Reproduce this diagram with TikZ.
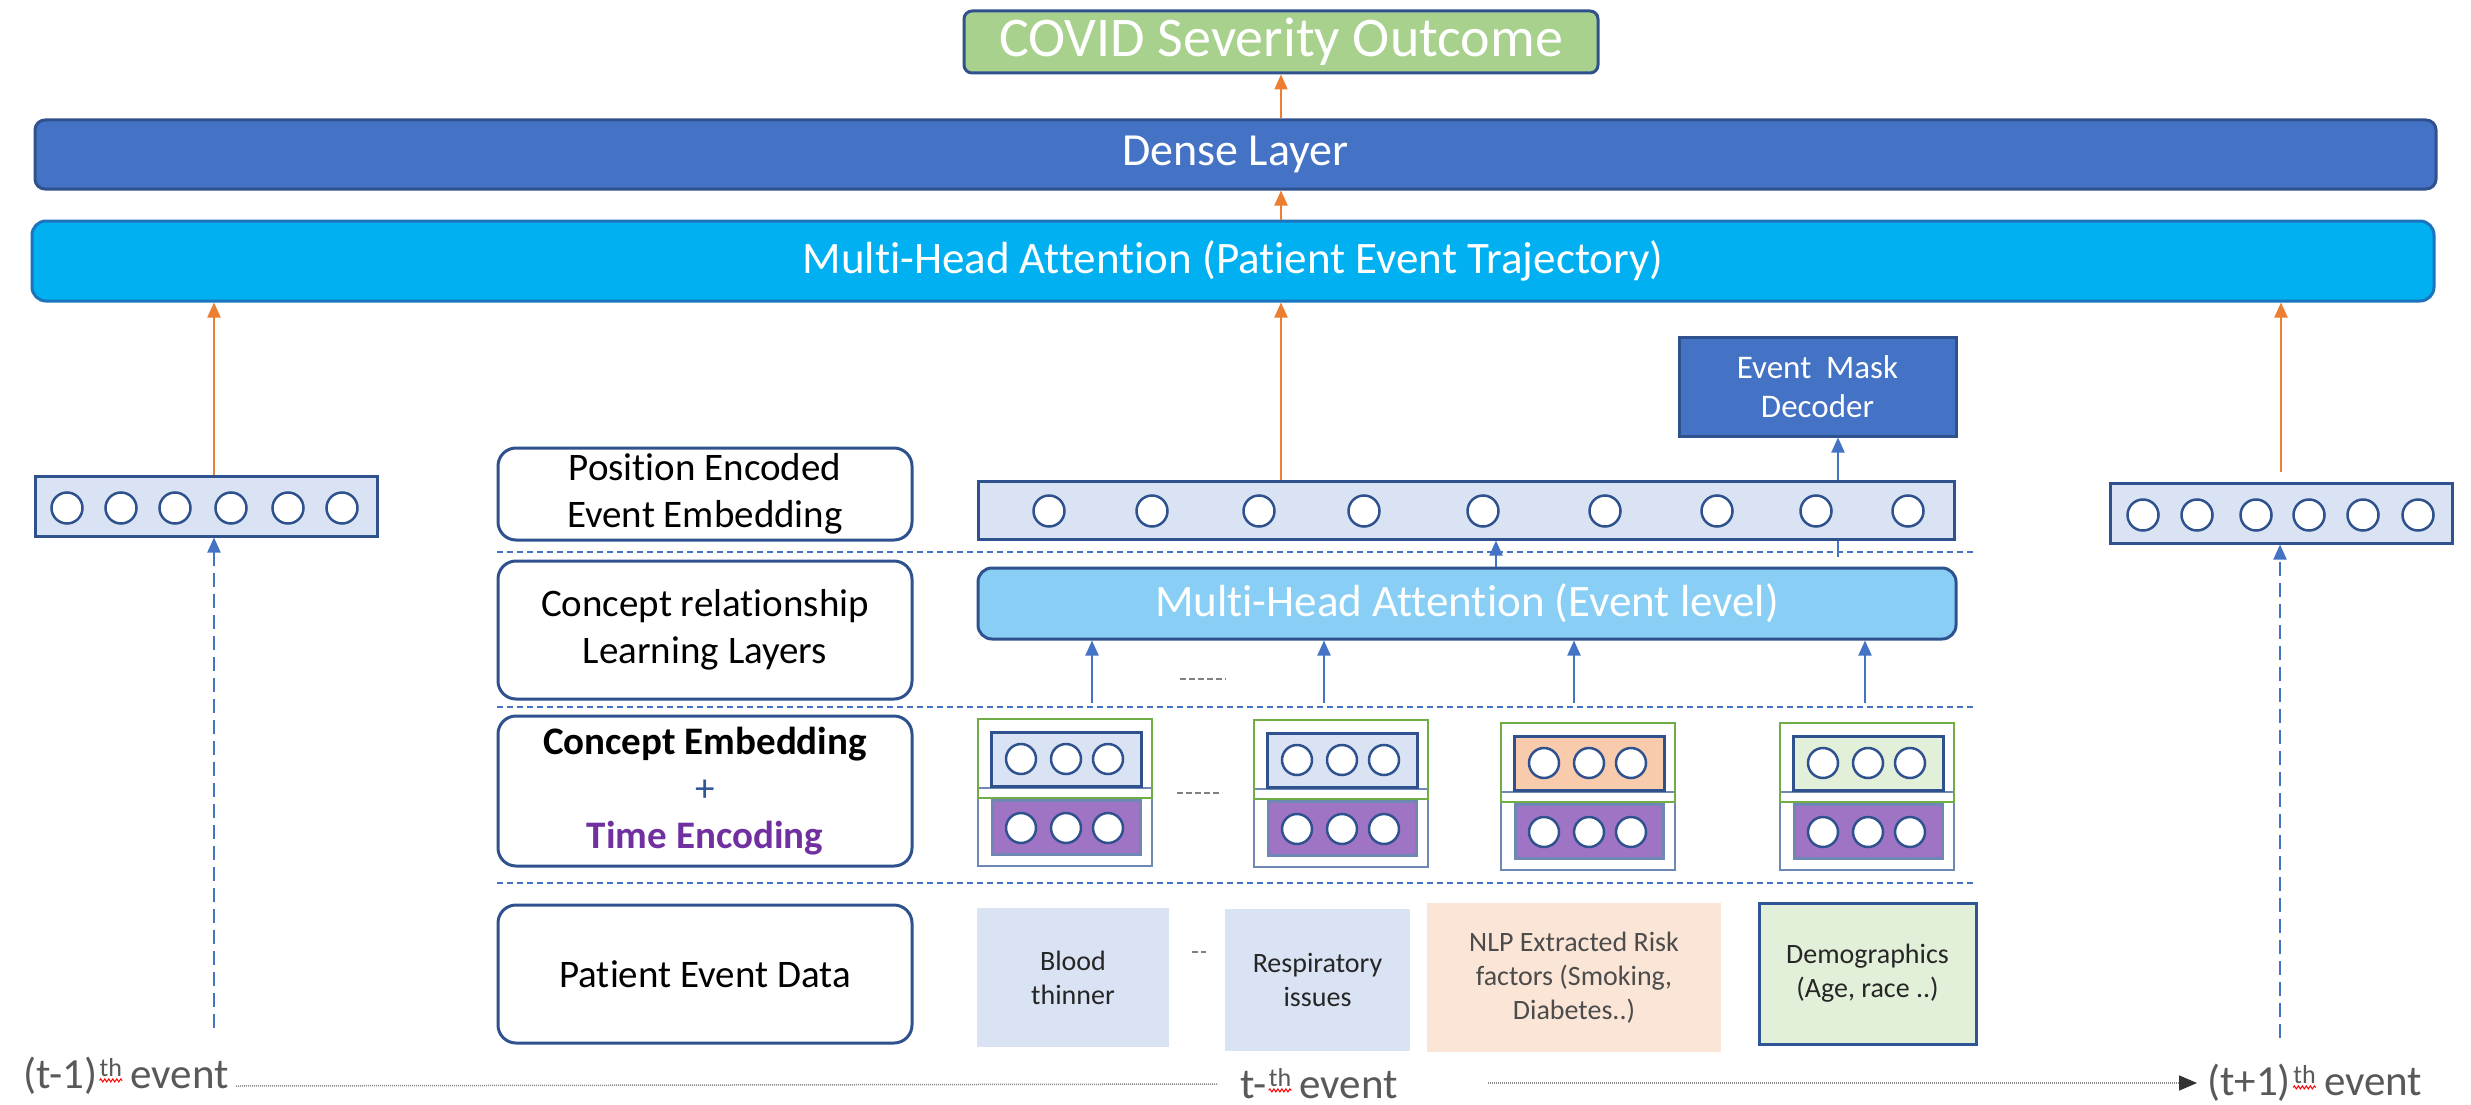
\documentclass[tikz,border=0pt]{standalone}
\usepackage{fontspec}
\setmainfont{Carlito}[Ligatures=NoCommon]
\usetikzlibrary{arrows.meta,calc,positioning,backgrounds,decorations.pathmorphing}
\definecolor{darkblue}{HTML}{2F528F}
\definecolor{accblue}{HTML}{4472C4}
\definecolor{cyanbar}{HTML}{00B0F0}
\definecolor{mhaline}{HTML}{1C75BC}
\definecolor{eventcyan}{HTML}{89CFF5}
\definecolor{paleblue}{HTML}{DAE3F3}
\definecolor{paleorange}{HTML}{F8CBAD}
\definecolor{peach}{HTML}{FBE5D6}
\definecolor{palegreen}{HTML}{E2F0D9}
\definecolor{covidgreen}{HTML}{A9D18E}
\definecolor{orangearr}{HTML}{ED7D31}
\definecolor{purplefill}{HTML}{A074C4}
\definecolor{timepurple}{HTML}{7030A0}
\definecolor{greenline}{HTML}{70AD47}
\definecolor{greyblue}{HTML}{6F87B5}
\definecolor{evgrey}{HTML}{595959}
\definecolor{demoblue}{HTML}{2F5597}
\newcommand{\setfs}[2]{\fontsize{#1}{#2}\selectfont}

\begin{document}
\begin{tikzpicture}[x=1pt,y=-1pt,
  bar/.style={draw=darkblue,line width=3pt,rounded corners=10pt,text=white,inner sep=0pt},
  rowname/.style={draw=darkblue,line width=3pt,fill=white,rounded corners=18pt,align=center,
    minimum width=414pt,inner sep=0pt,font=\setfs{39}{47}},
  emb/.style={draw=darkblue,line width=3pt,fill=paleblue,inner sep=0pt},
  unit/.style={draw=darkblue,line width=2.5pt,fill=white},
  data/.style={inner sep=0pt,align=center,text=black!85,font=\setfs{28}{34}},
  grpin/.style={draw=greenline,line width=2.5pt},
  grpout/.style={draw=greyblue,line width=2.5pt},
  oarrow/.style={draw=orangearr,line width=2pt,-{Triangle[length=15pt,width=13pt]}},
  barrow/.style={draw=accblue,line width=2pt,-{Triangle[length=15pt,width=13pt]}},
  divider/.style={draw=accblue,line width=2.5pt,dash pattern=on 6pt off 4pt},
  gdash/.style={draw=black!50,line width=2pt,dash pattern=on 6pt off 3pt},
  evt/.style={inner sep=0pt,text=evgrey,font=\setfs{43}{50}},
  evtsup/.style={inner sep=0pt,text=evgrey,font=\setfs{26}{29}},
  squig/.style={draw=red,line width=1pt,decorate,decoration={snake,amplitude=1.5pt,segment length=4pt}},
  timeline/.style={draw=black!45,line width=1.5pt,dash pattern=on 1pt off 1pt}]
  \useasboundingbox (0,0) rectangle (2471,1105);

  % top of the model
  \node[bar,fill=covidgreen,rounded corners=8pt,minimum width=634pt,minimum height=62pt,
    font=\setfs{56}{60}] (covid) at (1281,42) {COVID Severity Outcome};
  \node[bar,fill=accblue,minimum width=2401pt,minimum height=69pt,font=\setfs{46}{50}]
    (dense) at (1235.5,154.5) {Dense Layer};
  \node[bar,fill=cyanbar,draw=mhaline,rounded corners=14pt,minimum width=2402pt,minimum height=80pt,
    font=\setfs{45}{50}] (mhap) at (1233,261) {Multi-Head Attention (Patient Event Trajectory)};

  % event embeddings
  \node[emb,minimum width=342pt,minimum height=60pt] (lemb) at (206,506) {};
  \node[emb,minimum width=976pt,minimum height=58pt] (memb) at (1466,510) {};
  \node[emb,minimum width=342pt,minimum height=60pt] (remb) at (2281,513) {};
  \foreach \cx in {67,121,175,231,288,342} \draw[unit] (\cx,508) circle (15.5pt);
  \foreach \cx in {1049,1152,1259,1364,1483,1605,1717,1816,1908} \draw[unit] (\cx,511) circle (15.5pt);
  \foreach \cx in {2143,2197,2256,2309,2363,2418} \draw[unit] (\cx,515) circle (15.5pt);

  \node[bar,fill=accblue,sharp corners,minimum width=277pt,minimum height=99pt,align=center,
    font=\setfs{33}{39}] (dec) at (1817.5,386.5) {Event\ \ Mask\\Decoder};
  \node[bar,fill=eventcyan,rounded corners=14pt,minimum width=978pt,minimum height=71pt,
    font=\setfs{45}{50}] (mhae) at (1467,603.5) {Multi-Head Attention (Event level)};

  % row names
  \node[rowname,minimum height=92pt] (posenc) at (705,494) {Position Encoded\\Event Embedding};
  \node[rowname,minimum height=138pt] (conrel) at (705,630) {Concept relationship\\Learning Layers};
  \node[rowname,minimum height=150pt] (conemb) at (705,791)
    {\textbf{Concept Embedding}\\\textcolor{demoblue}{+}\\\textcolor{timepurple}{\textbf{Time Encoding}}};
  \node[rowname,minimum height=138pt] (patdata) at (705,974) {Patient Event Data};

  \draw[divider] (497,552) -- (1975,552);
  \draw[divider] (497,707) -- (1975,707);
  \draw[divider] (497,883) -- (1975,883);

  % concept + time embeddings
  \foreach \gx/\gy/\gc/\n in {978/719/paleblue/1,1254/720/paleblue/2,1501/723/paleorange/3,1780/723/palegreen/4}{
    \draw[grpout] (\gx,\gy+69) rectangle ++(174,78);
    \draw[grpin] (\gx,\gy) rectangle ++(174,79);
    \node[emb,fill=\gc,minimum width=150pt,minimum height=54pt] (ce\n) at (\gx+88,\gy+40) {};
    \node[emb,fill=purplefill,draw=greyblue,minimum width=148pt,minimum height=54pt] (te\n) at (\gx+88,\gy+108) {};
    \foreach \dx in {43,88,130}{
      \draw[unit] (\gx+\dx,\gy+40) circle (15pt);
      \draw[unit] (\gx+\dx,\gy+109) circle (15pt);
    }
  }

  % patient event data
  \node[data,fill=paleblue,minimum width=192pt,minimum height=139pt] (blood) at (1073,977.5) {Blood\\thinner};
  \node[data,fill=paleblue,minimum width=185pt,minimum height=142pt] (resp) at (1317.5,980) {Respiratory\\issues};
  \node[data,fill=peach,text=black!70,minimum width=294pt,minimum height=149pt] (nlp) at (1574,977.5)
    {NLP Extracted Risk\\factors (Smoking,\\Diabetes..)};
  \node[data,fill=palegreen,draw=demoblue,line width=3pt,minimum width=217pt,minimum height=141pt]
    (demo) at (1867.5,973.5) {Demographics\\(Age, race ..)};

  \draw[gdash] (1180,679) -- (1226,679);
  \draw[gdash] (1177,793) -- (1222,793);
  \draw[gdash] (1192,952) -- (1206,952);

  % arrows
  \draw[oarrow] (covid.south |- dense.north) -- (covid.south);
  \draw[oarrow] (covid.south |- mhap.north) -- (covid.south |- dense.south);
  \draw[oarrow] ([xshift=8pt]lemb.north) -- ([xshift=8pt]lemb.north |- mhap.south);
  \draw[oarrow] (covid.south |- memb.north) -- (covid.south |- mhap.south);
  \draw[oarrow] ([yshift=10pt]remb.north) -- (remb.north |- mhap.south);

  \coordinate (lfoot) at (214,1028);
  \coordinate (rfoot) at (2280,1038);
  \draw[barrow,dash pattern=on 14pt off 7pt] (lfoot) -- (lfoot |- lemb.south);
  \draw[barrow,dash pattern=on 14pt off 7pt] (rfoot) -- (rfoot |- remb.south);

  \draw[barrow] ([xshift=29pt]mhae.north) -- ([xshift=29pt]mhae.north |- memb.south);
  \foreach \ax [count=\i] in {1092,1324,1574,1865}{
    \coordinate (cf\i) at (\ax,703);
    \draw[barrow] (cf\i) -- (cf\i |- mhae.south);
  }

  \begin{scope}[on background layer]
    \fill[white] (0,0) rectangle (2471,1105);
    \coordinate (dfoot) at (1838,557);
    \draw[barrow] (dfoot) -- (dfoot |- dec.south);
  \end{scope}

  % time line
  \node[evt,anchor=base west] (prev) at (23,1088) {(t-1)};
  \node[evtsup,anchor=base west] (prevth) at ($(prev.base east)+(2,-12)$) {th};
  \node[evt,anchor=base west] (prevev) at ($(prevth.base east)+(8,12)$) {event};
  \node[evt,anchor=base west] (cur) at (1240,1098) {t-};
  \node[evtsup,anchor=base west] (curth) at ($(cur.base east)+(2,-12)$) {th};
  \node[evt,anchor=base west] (curev) at ($(curth.base east)+(8,12)$) {event};
  \node[evt,anchor=base west] (next) at (2207,1095) {(t+1)};
  \node[evtsup,anchor=base west] (nextth) at ($(next.base east)+(2,-12)$) {th};
  \node[evt,anchor=base west] (nextev) at ($(nextth.base east)+(8,12)$) {event};
  \foreach \t in {prevth,curth,nextth}
    \draw[squig] ($(\t.south west)+(0,4)$) -- ($(\t.south east)+(0,4)$);

  \draw[timeline] ($(prevev.base east)+(7,-2)$) -- ($(cur.base west)+(-22,-14)$);
  \draw[timeline,-{Triangle[length=18pt,width=15pt,black!80]}]
    ($(curev.base east)+(90,-15)$) -- ($(next.base west)+(-10,-12)$);
\end{tikzpicture}
\end{document}
